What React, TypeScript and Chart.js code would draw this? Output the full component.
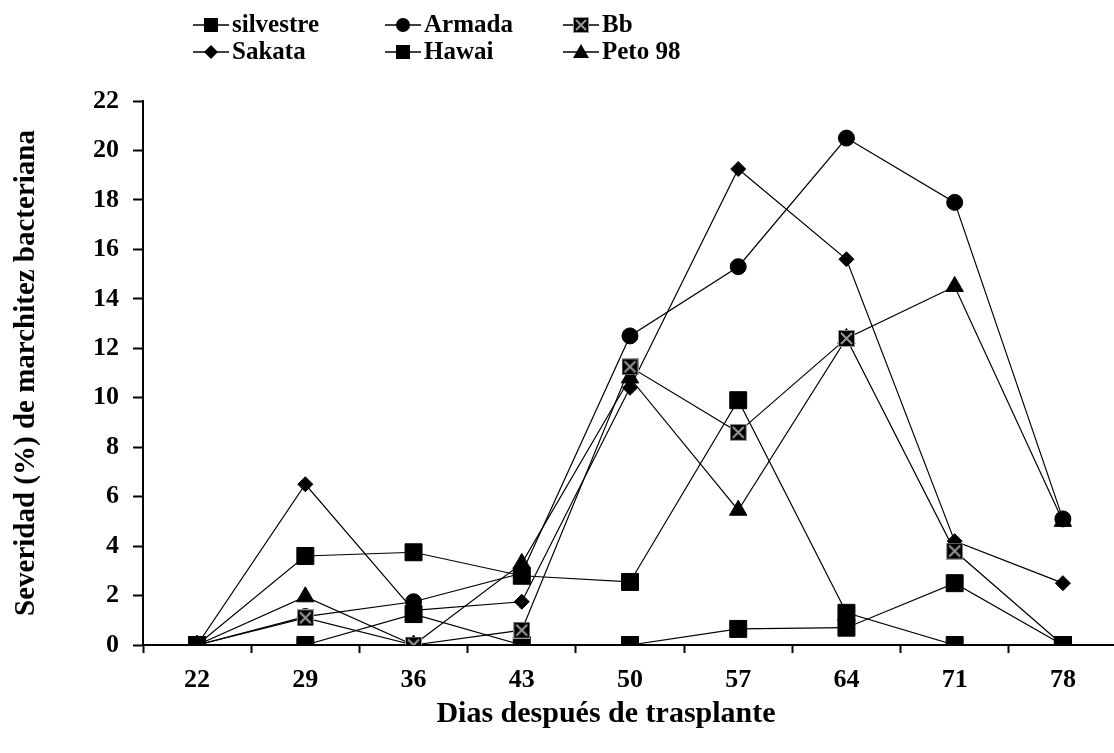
import React, { useEffect, useRef } from 'react';
import { Chart, registerables } from 'chart.js';

Chart.register(...registerables);

const days = ['22', '29', '36', '43', '50', '57', '64', '71', '78'];
const silvestre = [0, 3.6, 3.75, 2.8, 2.55, 9.9, 1.3, 0, 0];
const armada = [0, 1.15, 1.75, 2.9, 12.5, 15.3, 20.5, 17.9, 5.1];
const bb = [0, 1.1, 0, 0.6, 11.25, 8.6, 12.4, 3.8, 0];
const sakata = [0, 6.5, 1.4, 1.75, 10.4, 19.25, 15.6, 4.2, 2.5];
const hawai = [0, 0, 1.25, 0, 0, 0.65, 0.7, 2.5, 0];
const peto98 = [0, 1.95, 0, 3.3, 10.8, 5.45, 12.4, 14.5, 5.0];

const seriesNames = ['silvestre', 'Armada', 'Bb', 'Sakata', 'Hawai', 'Peto 98'];
const yMin = 0;
const yMax = 22;
const yStep = 2;
const xTitle = 'Dias después de trasplante';
const yTitle = 'Severidad (%) de marchitez bacteriana';

const FONT = '"Liberation Serif", "Times New Roman", serif';

function makeXSquare(size: number) {
  const c = document.createElement('canvas');
  c.width = size;
  c.height = size;
  const ctx = c.getContext('2d')!;
  ctx.fillStyle = '#000';
  ctx.fillRect(0, 0, size, size);
  ctx.strokeStyle = '#9a9a9a';
  ctx.lineWidth = 1;
  ctx.strokeRect(0.5, 0.5, size - 1, size - 1);
  ctx.lineWidth = 2;
  ctx.beginPath();
  ctx.moveTo(3, 3);
  ctx.lineTo(size - 3, size - 3);
  ctx.moveTo(size - 3, 3);
  ctx.lineTo(3, size - 3);
  ctx.stroke();
  return c;
}

function drawMarker(ctx: CanvasRenderingContext2D, style: string, x: number, y: number, img: HTMLCanvasElement) {
  ctx.save();
  ctx.fillStyle = '#000';
  ctx.beginPath();
  if (style === 'rect') {
    ctx.rect(x - 7, y - 7, 14, 14);
    ctx.fill();
  } else if (style === 'circle') {
    ctx.arc(x, y, 7, 0, Math.PI * 2);
    ctx.fill();
  } else if (style === 'rectRot') {
    ctx.moveTo(x, y - 7);
    ctx.lineTo(x + 7, y);
    ctx.lineTo(x, y + 7);
    ctx.lineTo(x - 7, y);
    ctx.closePath();
    ctx.fill();
  } else if (style === 'triangle') {
    ctx.moveTo(x, y - 8);
    ctx.lineTo(x + 8, y + 6);
    ctx.lineTo(x - 8, y + 6);
    ctx.closePath();
    ctx.fill();
  } else if (style === 'xsq') {
    ctx.drawImage(img, x - 8, y - 8, 16, 16);
  }
  ctx.restore();
}

export default function App() {
  const ref = useRef<HTMLCanvasElement>(null);

  useEffect(() => {
    if (!ref.current) return;
    const xsq = makeXSquare(17);
    const xsqLegend = makeXSquare(16);
    const styles = ['rect', 'circle', 'xsq', 'rectRot', 'rect', 'triangle'];
    const values = [silvestre, armada, bb, sakata, hawai, peto98];
    const radii = [12, 8, 9, 7.5, 12, 10];
    const orders = [0, 2, 1, 3, 4, 5];

    const legendCols = [193, 385, 563];
    const legendRows = [25, 52];

    const textPlugin = {
      id: 'customText',
      afterDraw(chart: any) {
        const ctx = chart.ctx as CanvasRenderingContext2D;
        ctx.save();
        seriesNames.forEach((name, i) => {
          const col = i % 3;
          const row = Math.floor(i / 3);
          const x0 = legendCols[col];
          const y = legendRows[row];
          ctx.strokeStyle = '#000';
          ctx.lineWidth = 1.5;
          ctx.beginPath();
          ctx.moveTo(x0, y);
          ctx.lineTo(x0 + 36, y);
          ctx.stroke();
          drawMarker(ctx, styles[i], x0 + 18, y, xsqLegend);
          ctx.fillStyle = '#000';
          ctx.font = `bold 25px ${FONT}`;
          ctx.textBaseline = 'middle';
          ctx.textAlign = 'left';
          ctx.fillText(name, x0 + 39, y + 1);
        });
        // x-axis title
        ctx.font = `bold 30px ${FONT}`;
        ctx.textAlign = 'center';
        ctx.textBaseline = 'middle';
        ctx.fillStyle = '#000';
        ctx.fillText(xTitle, 606, 714);
        ctx.restore();
      },
    };

    const datasets = seriesNames.map((name, i) => ({
      label: name,
      data: values[i],
      order: orders[i],
      borderColor: '#000',
      backgroundColor: '#000',
      borderWidth: 1.2,
      pointStyle: styles[i] === 'xsq' ? xsq : styles[i],
      pointRadius: radii[i],
      pointBorderWidth: 1,
      pointBorderColor: '#000',
      pointBackgroundColor: '#000',
      tension: 0,
      fill: false,
    }));

    const chart = new Chart(ref.current, {
      type: 'line',
      data: { labels: days, datasets },
      plugins: [textPlugin],
      options: {
        animation: false,
        responsive: false,
        layout: { padding: { top: 101, left: 0, right: 8, bottom: 0 } },
        plugins: {
          legend: { display: false },
          tooltip: { enabled: false },
        },
        scales: {
          x: {
            type: 'category',
            offset: true,
            afterFit(scale: any) {
              scale.height = 108;
            },
            grid: {
              display: true,
              offset: true,
              drawOnChartArea: false,
              drawTicks: true,
              tickLength: 8,
              tickWidth: 2,
              tickColor: '#000',
            },
            border: { display: true, color: '#000', width: 2 },
            ticks: {
              color: '#000',
              font: { family: FONT, size: 26, weight: 'bold' },
              padding: 12,
              maxRotation: 0,
            },
            title: { display: false },
          },
          y: {
            min: yMin,
            max: yMax,
            afterFit(scale: any) {
              scale.width = 143;
            },
            ticks: {
              stepSize: yStep,
              color: '#000',
              font: { family: FONT, size: 26, weight: 'bold' },
              padding: 14,
            },
            grid: {
              display: true,
              drawOnChartArea: false,
              drawTicks: true,
              tickLength: 10,
              tickWidth: 2,
              tickColor: '#000',
            },
            border: { display: true, color: '#000', width: 2 },
            title: {
              display: true,
              text: yTitle,
              color: '#000',
              font: { family: FONT, size: 29, weight: 'bold' },
              padding: { top: 9, bottom: 0 },
            },
          },
        },
      },
    });
    return () => chart.destroy();
  }, []);

  return (
    <div
      style={{
        position: 'fixed',
        left: 0,
        top: 0,
        width: '1114px',
        height: '753px',
        overflow: 'hidden',
        background: '#fff',
      }}
    >
      <canvas ref={ref} width={1130} height={753} style={{ display: 'block' }} />
    </div>
  );
}
